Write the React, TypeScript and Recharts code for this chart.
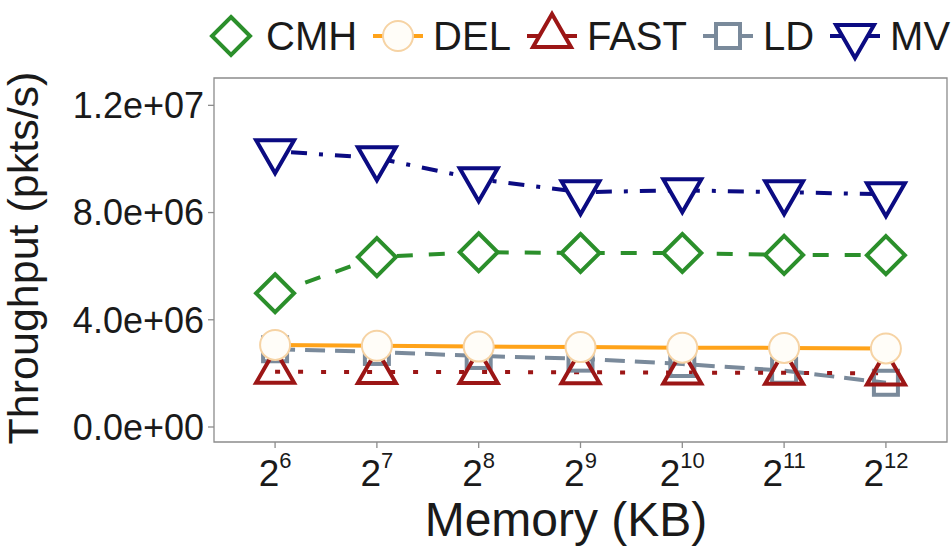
import { LineChart, Line, XAxis, YAxis, ReferenceArea } from 'recharts';

// memory sizes as powers of two (2^6 .. 2^12 KB)
const memExp = [6, 7, 8, 9, 10, 11, 12];
const cmh = [4.99e6, 6.34e6, 6.52e6, 6.49e6, 6.49e6, 6.42e6, 6.41e6];
const del = [3.06e6, 3.03e6, 3.0e6, 2.98e6, 2.96e6, 2.95e6, 2.93e6];
const fast = [2.06e6, 2.05e6, 2.05e6, 2.04e6, 2.03e6, 2.02e6, 2.0e6];
const ld = [2.9e6, 2.8e6, 2.65e6, 2.55e6, 2.35e6, 2.1e6, 1.65e6];
const mv = [10.29e6, 10.03e6, 9.24e6, 8.76e6, 8.83e6, 8.76e6, 8.68e6];
const yTicks = [0, 4e6, 8e6, 1.2e7];

const data = memExp.map((e, i) => ({
  e,
  cmh: cmh[i],
  del: del[i],
  fast: fast[i],
  ld: ld[i],
  mv: mv[i],
}));

const C = {
  cmh: '#2b8f2b',
  del: '#ffa31a',
  delMark: '#f6d3a4',
  fast: '#9c1616',
  ld: '#7a8a9b',
  mv: '#0b0b82',
};

const FONT = '"Liberation Sans", Arial, Helvetica, sans-serif';

type Shape = 'diamond' | 'circle' | 'up' | 'down' | 'square';

function marker(shape: Shape, cx: number, cy: number, color: string, fill = 'none') {
  const sw = 4;
  if (shape === 'diamond') {
    const r = 19;
    return (
      <path
        d={`M${cx},${cy - r}L${cx + r},${cy}L${cx},${cy + r}L${cx - r},${cy}Z`}
        fill={fill}
        stroke={color}
        strokeWidth={sw}
      />
    );
  }
  if (shape === 'circle') {
    return <circle cx={cx} cy={cy} r={15} fill={fill} stroke={color} strokeWidth={2} />;
  }
  if (shape === 'square') {
    const h = 12;
    return (
      <rect x={cx - h} y={cy - h} width={2 * h} height={2 * h} fill={fill} stroke={color} strokeWidth={sw} />
    );
  }
  const r = 22;
  const xc = 19;
  if (shape === 'up') {
    return (
      <path
        d={`M${cx},${cy - r}L${cx + xc},${cy + r / 2}L${cx - xc},${cy + r / 2}Z`}
        fill={fill}
        stroke={color}
        strokeWidth={sw}
        strokeLinejoin="miter"
      />
    );
  }
  return (
    <path
      d={`M${cx},${cy + r}L${cx + xc},${cy - r / 2}L${cx - xc},${cy - r / 2}Z`}
      fill={fill}
      stroke={color}
      strokeWidth={sw}
      strokeLinejoin="miter"
    />
  );
}

const makeDot = (shape: Shape, color: string, fill = 'none') => (p: any) => {
  const { cx, cy, index } = p;
  if (cx == null || cy == null) return <g key={index} />;
  return <g key={`d-${shape}-${index}`}>{marker(shape, cx, cy, color, fill)}</g>;
};

const fmtY = (v: number) => {
  const [m, ex] = v.toExponential(1).split('e');
  const sign = ex[0] === '-' ? '-' : '+';
  const digits = ex.replace(/[+-]/, '').padStart(2, '0');
  return `${m}e${sign}${digits}`;
};

const XTick = (p: any) => {
  const { x, y, payload } = p;
  return (
    <text x={x} y={y + 36} textAnchor="middle" fontFamily={FONT} fontSize={37} fill="#1a1a1a">
      2
      <tspan dy={-18} fontSize={22}>
        {payload.value}
      </tspan>
    </text>
  );
};

const legendItems: { name: string; shape: Shape; color: string; fill?: string; line: string }[] = [
  { name: 'CMH', shape: 'diamond', color: C.cmh, line: 'none' },
  { name: 'DEL', shape: 'circle', color: C.delMark, fill: '#fffdf8', line: C.del },
  { name: 'FAST', shape: 'up', color: C.fast, line: C.fast },
  { name: 'LD', shape: 'square', color: C.ld, line: C.ld },
  { name: 'MV', shape: 'down', color: C.mv, line: C.mv },
];

function ChartLegend() {
  return (
    <div
      style={{
        position: 'absolute',
        left: 206,
        top: 10,
        display: 'flex',
        alignItems: 'center',
        fontFamily: FONT,
        fontSize: 40,
        color: '#1a1a1a',
        whiteSpace: 'nowrap',
      }}
    >
      {legendItems.map((it) => (
        <div key={it.name} style={{ display: 'flex', alignItems: 'center', marginRight: 16 }}>
          <svg width={50} height={52} style={{ marginRight: 10 }}>
            {it.line !== 'none' && (
              <line x1={0} y1={26} x2={50} y2={26} stroke={it.line} strokeWidth={4} />
            )}
            {marker(it.shape, 25, 26, it.color, it.fill ?? '#ffffff')}
          </svg>
          <span>{it.name}</span>
        </div>
      ))}
    </div>
  );
}

export default function App() {
  return (
    <div style={{ position: 'absolute', left: 0, top: 0, width: 951, height: 549, background: '#fff' }}>
      <ChartLegend />
      <LineChart width={951} height={549} data={data} margin={{ top: 78, right: 4, bottom: 47, left: 64 }}>
        <XAxis
          dataKey="e"
          type="number"
          domain={[5.4, 12.6]}
          ticks={memExp}
          allowDataOverflow
          height={60}
          tickSize={6}
          tickMargin={2}
          axisLine={false}
          tickLine={{ stroke: '#8c8c8c', strokeWidth: 1.3 }}
          tick={<XTick />}
          label={{
            content: () => (
              <text x={566} y={536} textAnchor="middle" fontFamily={FONT} fontSize={48} fill="#1a1a1a">
                Memory (KB)
              </text>
            ),
          }}
        />
        <YAxis
          type="number"
          domain={[-0.56e6, 13.02e6]}
          ticks={yTicks}
          allowDataOverflow
          width={150}
          tickSize={6}
          tickMargin={4}
          axisLine={false}
          tickLine={{ stroke: '#8c8c8c', strokeWidth: 1.3 }}
          tickFormatter={fmtY}
          tick={{ fontFamily: FONT, fontSize: 36, fill: '#1a1a1a' }}
          label={{
            content: () => (
              <text
                x={38}
                y={258}
                transform="rotate(-90 38 258)"
                textAnchor="middle"
                fontFamily={FONT}
                fontSize={43}
                fill="#1a1a1a"
              >
                Throughput (pkts/s)
              </text>
            ),
          }}
        />
        <ReferenceArea
          x1={5.4}
          x2={12.6}
          y1={-0.56e6}
          y2={13.02e6}
          fill="none"
          stroke="#8c8c8c"
          strokeWidth={1.3}
          ifOverflow="visible"
        />
        <Line
          dataKey="ld"
          stroke={C.ld}
          strokeWidth={4}
          strokeDasharray="20 10"
          dot={makeDot('square', C.ld)}
          activeDot={false}
          isAnimationActive={false}
        />
        <Line
          dataKey="fast"
          stroke={C.fast}
          strokeWidth={4}
          strokeDasharray="5 18"
          dot={makeDot('up', C.fast)}
          activeDot={false}
          isAnimationActive={false}
        />
        <Line
          dataKey="del"
          stroke={C.del}
          strokeWidth={4}
          dot={makeDot('circle', C.delMark, '#fffdf8')}
          activeDot={false}
          isAnimationActive={false}
        />
        <Line
          dataKey="cmh"
          stroke={C.cmh}
          strokeWidth={4}
          strokeDasharray="16 16"
          dot={makeDot('diamond', C.cmh, '#ffffff')}
          activeDot={false}
          isAnimationActive={false}
        />
        <Line
          dataKey="mv"
          stroke={C.mv}
          strokeWidth={4}
          strokeDasharray="4 12 16 12"
          dot={makeDot('down', C.mv, '#ffffff')}
          activeDot={false}
          isAnimationActive={false}
        />
      </LineChart>
    </div>
  );
}
